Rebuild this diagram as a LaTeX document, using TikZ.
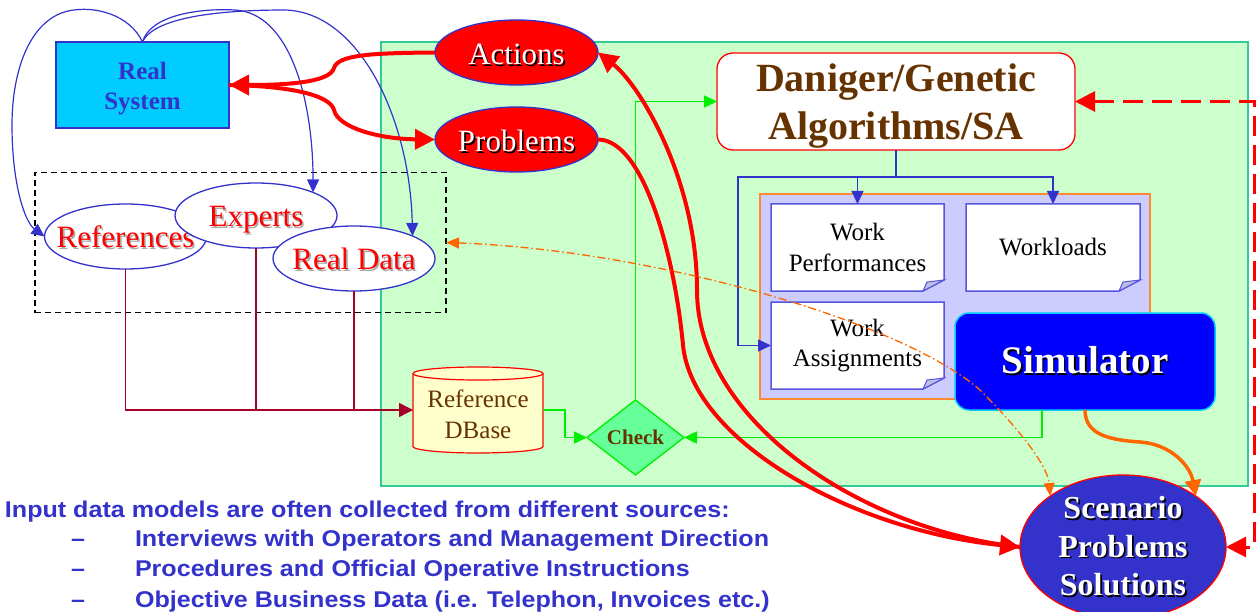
\documentclass[tikz,border=0pt]{standalone}
\usepackage{fontspec}
\setmainfont{Liberation Serif}
\newfontfamily\notesans[FakeStretch=1.1]{Liberation Sans}
\usetikzlibrary{arrows.meta,shapes.geometric,backgrounds}

\definecolor{inkblue}{RGB}{51,51,204}
\definecolor{paleGreen}{RGB}{204,255,204}
\definecolor{tealEdge}{RGB}{51,204,153}
\definecolor{brownText}{RGB}{102,51,0}
\definecolor{lavender}{RGB}{204,204,255}
\definecolor{panelEdge}{RGB}{255,136,51}
\definecolor{noteEdge}{RGB}{85,85,221}
\definecolor{foldFill}{RGB}{190,190,225}
\definecolor{sysCyan}{RGB}{0,204,255}
\definecolor{simBlue}{RGB}{0,0,255}
\definecolor{checkFill}{RGB}{102,255,153}
\definecolor{checkEdge}{RGB}{0,238,0}
\definecolor{dbFill}{RGB}{255,255,204}
\definecolor{wine}{RGB}{165,0,40}
\definecolor{flame}{RGB}{255,102,0}
\definecolor{shadeGray}{RGB}{170,170,170}

% text with a small drop shadow behind it
\newcommand{\shadowtext}[2]{\leavevmode\rlap{\kern1.6pt\raisebox{-1.6pt}{\textcolor{#1}{#2}}}#2}

\tikzset{
  every node/.style={inner sep=0pt, outer sep=0pt},
  srcoval/.style={ellipse, draw=inkblue, line width=1.3pt, fill=white,
    minimum width=162pt, minimum height=65pt, inner xsep=-15pt,
    text height=22pt, text depth=0pt, text=red, font=\fontsize{31}{37}\selectfont},
  issueoval/.style={ellipse, draw=inkblue, line width=1.3pt, fill=red,
    minimum width=163pt, minimum height=65pt, inner xsep=-15pt,
    text height=24pt, text depth=0pt, text=white, font=\fontsize{31}{37}\selectfont},
  notebox/.style={rectangle, minimum width=173pt, minimum height=87pt, align=center,
    font=\fontsize{25}{30.5}\selectfont},
  noteline/.style={draw=noteEdge, line width=1.5pt, fill=white},
  foldline/.style={draw=noteEdge, line width=1pt, fill=foldFill},
  bluefeed/.style={draw=inkblue, line width=1.2pt, -{Triangle[length=13pt,width=12pt]}},
  greenfeed/.style={draw=checkEdge, line width=1.5pt, -{Triangle[length=13pt,width=12pt]}},
  winefeed/.style={draw=wine, line width=1.4pt},
  bigred/.style={draw=red, line width=4pt},
  redtip/.style={-{Triangle[length=20pt,width=20pt]}},
  bodytext/.style={anchor=base west, text=inkblue, font=\notesans\bfseries\fontsize{22.8}{27}\selectfont},
}

\begin{document}
\begin{tikzpicture}[x=1pt,y=-1pt]
\useasboundingbox (0,0) rectangle (1257,612);

% ---- data sources group
\node[draw=black, line width=1.8pt, dash pattern=on 6pt off 4pt,
      minimum width=411pt, minimum height=140pt] (src) at (240.5,242.5) {};
\node[srcoval] (rf) at (125.5,236.5) {\shadowtext{shadeGray}{References}};
\node[srcoval] (ex) at (256,215.5) {\shadowtext{shadeGray}{Experts}};
\node[srcoval] (rd) at (354,258.5) {\shadowtext{shadeGray}{Real Data}};

% ---- real system and its outputs
\node[rectangle, draw=inkblue, line width=1.5pt, fill=sysCyan, minimum width=173pt,
      minimum height=86pt, align=center, text=inkblue, text height=50pt, text depth=0pt,
      font=\bfseries\fontsize{25}{30}\selectfont] (rs) at (142.5,85) {Real\\System};
\node[issueoval] (ac) at (516.5,52.5) {\shadowtext{black}{Actions}};
\node[issueoval] (pr) at (516.5,139.5) {\shadowtext{black}{Problems}};

% ---- optimiser and simulation model
\node[rectangle, rounded corners=16pt, draw=red, line width=1.3pt, fill=white,
      minimum width=358pt, minimum height=97pt, align=center, text=brownText,
      text height=77pt, text depth=0pt,
      font=\bfseries\fontsize{40}{48}\selectfont] (dan) at (896,101.5) {Daniger/Genetic\\Algorithms/SA};
\node[notebox] (wp) at (857.5,247.5) {Work\\Performances};
\node[notebox, minimum width=174pt] (wl) at (1053,247.5) {Workloads};
\node[notebox] (wa) at (857.5,345.5) {Work\\Assignments};
\node[rectangle, rounded corners=14pt, draw=sysCyan, line width=1.5pt, fill=simBlue,
      minimum width=260pt, minimum height=97pt, text=white,
      font=\bfseries\fontsize{39}{46}\selectfont] (sim) at (1085,361.5) {\shadowtext{black}{Simulator}};
\node[minimum width=130pt, minimum height=86pt, align=center, text=brownText,
      text height=56pt, text depth=0pt,
      font=\fontsize{25}{30.5}\selectfont] (db) at (478,410) {Reference\\DBase};
\node[diamond, aspect=2, draw=checkEdge, line width=1.3pt, fill=checkFill,
      minimum width=97pt, minimum height=75pt, text=brownText,
      font=\bfseries\fontsize{21}{25}\selectfont] (chk) at (635.5,437.5) {Check};

% ---- backdrop: model area, database drum, document panel
\begin{pgfonlayer}{background}
  \node[rectangle, draw=tealEdge, line width=1.5pt, fill=paleGreen,
        minimum width=867pt, minimum height=444pt] (zone) at (814.5,264) {};
  \path[fill=dbFill, draw=red, line width=1.2pt]
    ([yshift=-6.5pt]db.north west) -- ([yshift=6.5pt]db.south west)
    arc[start angle=180, end angle=360, x radius=65pt, y radius=6.5pt]
    -- ([yshift=-6.5pt]db.north east)
    arc[start angle=0, end angle=180, x radius=65pt, y radius=6.5pt] -- cycle;
  \draw[red, line width=1.2pt] ([yshift=-6.5pt]db.north west)
    arc[start angle=180, end angle=360, x radius=65pt, y radius=6.5pt];
  \node[rectangle, draw=panelEdge, line width=1.5pt, fill=lavender,
        minimum width=390pt, minimum height=205pt] (panel) at (955,296.5) {};
  \foreach \n in {wp,wl,wa} {
    \path[noteline] (\n.north west) -- (\n.north east) -- ([yshift=11pt]\n.south east)
      -- ([xshift=-21pt]\n.south east) -- (\n.south west) -- cycle;
    \path[foldline] ([yshift=11pt]\n.south east) -- ([xshift=-21pt]\n.south east)
      -- ([xshift=-17pt,yshift=9pt]\n.south east) -- cycle;
  }
\end{pgfonlayer}

% ---- real system observed through the sources
\draw[bluefeed] (rs.north) .. controls (130,15) and (95,5) .. (68,11)
  .. controls (30,20) and (12,70) .. (12,125) .. controls (12,185) and (25,222) .. (rf.west);
\draw[bluefeed] (rs.north) .. controls (150,15) and (200,8) .. (235,10)
  .. controls (290,13) and (313,100) .. (ex.22);
\draw[bluefeed] (rs.north) .. controls (155,15) and (230,10) .. (285,10)
  .. controls (360,12) and (410,120) .. (rd.21);

% ---- sources collected into the reference database
\draw[winefeed, -{Triangle[length=14pt,width=14pt]}] (rf.south) |- (db.west);
\draw[winefeed] (ex.south) -- (ex.south |- db.west);
\draw[winefeed] (rd.south) -- (rd.south |- db.west);

% ---- optimiser drives the model documents
\coordinate (bj) at (896,177);
\draw[inkblue, line width=1.2pt] (dan.south) -- (bj);
\draw[bluefeed] (bj) -| (wp.north);
\draw[bluefeed] (bj) -| (wl.north);
\draw[bluefeed] (bj) -| ([xshift=-33pt]wa.west) -- (wa.west);

% ---- validation loop
\draw[greenfeed] (chk.north) |- (dan.west);
\draw[greenfeed] (db.east) -- ([xshift=22pt]db.east) |- (chk.west);
\draw[greenfeed] ([xshift=-43pt]sim.south) |- (chk.east);

% ---- results node
\node[ellipse, draw=red, line width=1.3pt, fill=inkblue, minimum width=206pt,
      minimum height=144pt, inner xsep=-20pt, inner ysep=-12pt, align=center, text=white,
      font=\bfseries\fontsize{32}{38.5}\selectfont] (sc) at (1123,547)
      {\shadowtext{black}{Scenario}\\\shadowtext{black}{Problems}\\\shadowtext{black}{Solutions}};

% ---- actions and problems loop
\draw[bigred, redtip] (ac.west) .. controls (370,53) and (338,55) .. (334,68)
  .. controls (330,82) and (290,85) .. (rs.east);
\draw[bigred, redtip] (rs.east) .. controls (290,86) and (330,95) .. (334,110)
  .. controls (338,128) and (380,139) .. (pr.west);
\draw[bigred, redtip] (pr.east) .. controls (645,140) and (675,260) .. (683,345)
  .. controls (692,440) and (850,530) .. (sc.west);
\draw[bigred, {Triangle[length=20pt,width=20pt]}-] (ac.east) .. controls (640,85) and (697,180) .. (697,290)
  .. controls (697,420) and (860,530) .. (sc.west);

% ---- simulator results and feedback to the sources
\draw[flame, line width=3.5pt, -{Triangle[length=16pt,width=16pt]}] (sim.south)
  .. controls (1085,435) and (1110,440) .. (1140,442)
  .. controls (1170,444) and (1190,465) .. (sc.35);
\draw[flame, line width=1.3pt, dash pattern=on 8pt off 3pt on 1.5pt off 3pt,
      {Triangle[length=13pt,width=11pt]}-{Triangle[length=13pt,width=11pt]}]
  (src.east) .. controls (650,250) and (900,320) .. (980,390)
  .. controls (1030,440) and (1048,470) .. (sc.145);

% ---- scenario feedback to the optimiser
\coordinate (rt) at (1254,101.5);
\coordinate (rb) at (1254,547);
\draw[red, line width=3pt, dash pattern=on 20pt off 9pt,
      {Triangle[length=20pt,width=20pt]}-{Triangle[length=20pt,width=20pt]}]
  (dan.east) -- (rt) -- (rb) -- (sc.east);

% ---- notes on the input data
\node[bodytext] (t0) at (5,517) {Input data models are often collected from different sources:};
\node[bodytext] (d1) at (71,546) {–};
\node[bodytext] (t1) at (135,546) {Interviews with Operators and Management Direction};
\node[bodytext] (d2) at (71,576.5) {–};
\node[bodytext] (t2) at (135,576.5) {Procedures and Official Operative Instructions};
\node[bodytext] (d3) at (71,607) {–};
\node[bodytext] (t3) at (135,607) {Objective Business Data (i.e. Telephon, Invoices etc.)};

\end{tikzpicture}
\end{document}
